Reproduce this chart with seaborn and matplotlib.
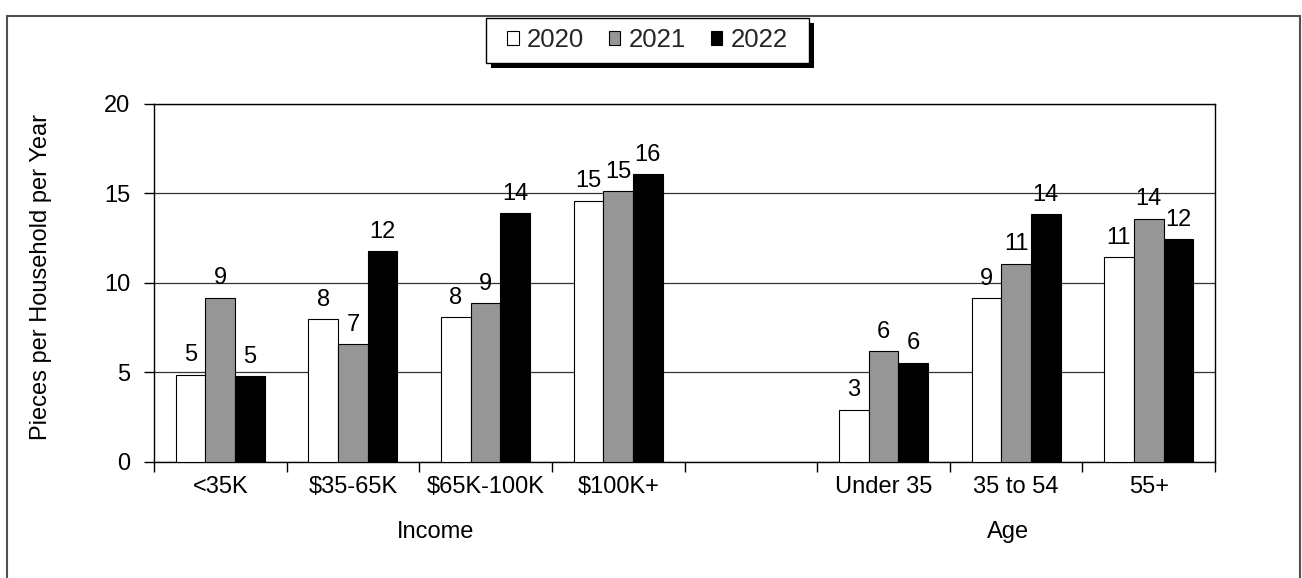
import matplotlib
matplotlib.use("Agg")
import matplotlib.pyplot as plt
import matplotlib.patches as mpatches
import matplotlib.transforms as mtransforms
import numpy as np
import pandas as pd
import seaborn as sns

# ---- data -------------------------------------------------------------
segments = ["<35K", "$35-65K", "$65K-100K", "$100K+", " ", "Under 35", "35 to 54", "55+"]
years = ["2020", "2021", "2022"]
pieces_2020 = [4.87, 7.97, 8.08, 14.59, None, 2.91, 9.14, 11.45]
pieces_2021 = [9.18, 6.59, 8.88, 15.13, None, 6.18, 11.08, 13.58]
pieces_2022 = [4.78, 11.77, 13.88, 16.06, None, 5.54, 13.84, 12.46]
group_names = ["Income", "Age"]
y_label = "Pieces per Household per Year"

# ---- long-form table ----------------------------------------------------
rows = []
for year, values in zip(years, [pieces_2020, pieces_2021, pieces_2022]):
    for seg, v in zip(segments, values):
        if v is not None:
            rows.append({"segment": seg, "year": year, "pieces": v})
df = pd.DataFrame(rows)

palette = {"2020": "#ffffff", "2021": "#969696", "2022": "#000000"}

sns.set_theme(style="white")
plt.rcParams["font.family"] = ["Liberation Sans", "DejaVu Sans"]
FS = 17

W, H = 1302, 578
fig = plt.figure(figsize=(W / 100, H / 100), dpi=100)
ax = fig.add_axes([154 / W, 1 - 461.7 / H, (1215 - 154) / W, (461.7 - 104) / H])

sns.barplot(data=df, x="segment", y="pieces", hue="year",
            order=segments, hue_order=years, palette=palette,
            width=0.672, gap=0, edgecolor="black", linewidth=0.8,
            errorbar=None, legend=False, ax=ax, zorder=3)

for cont in ax.containers:
    ax.bar_label(cont, fmt="{:.0f}", padding=6, fontsize=FS, color="black")

# axes & ticks
ax.set_xlim(-0.5, len(segments) - 0.5)
ax.set_ylim(0, 20)
ax.set_yticks(np.arange(0, 21, 5))
ax.set_xticks(np.arange(-0.5, len(segments), 1))
ax.set_xticklabels([])
ax.set_xticks(np.arange(len(segments)), labels=segments, minor=True)
ax.tick_params(axis="x", which="major", direction="out", length=7, width=1,
               color="black", bottom=True)
ax.tick_params(axis="x", which="minor", length=0, pad=10, labelsize=FS,
               labelcolor="black")
ax.tick_params(axis="y", direction="out", length=7, width=1, color="black",
               left=True, pad=10, labelsize=FS, labelcolor="black")
ax.set_xlabel("")
ax.set_ylabel(y_label, fontsize=FS, color="black")
ax.yaxis.set_label_coords(-0.0964, 0.516)

ax.yaxis.grid(True, color="#333333", linewidth=0.9, zorder=0)
ax.xaxis.grid(False)
ax.set_axisbelow(True)
for side in ["left", "bottom", "top", "right"]:
    ax.spines[side].set_visible(True)
    ax.spines[side].set_color("black")
    ax.spines[side].set_linewidth(1)

# group captions under the category labels
trans = mtransforms.blended_transform_factory(ax.transData, ax.transAxes)
for name, xc in zip(group_names, [1.62, 5.94]):
    ax.text(xc, -0.2133, name, transform=trans, ha="center", va="baseline",
            fontsize=FS, color="black")

# legend: box with a solid drop shadow, entries on top
LFS = 18.5
box_l, box_r, box_t, box_b = 486, 809, 17.7, 63
sh = 5
fig.add_artist(mpatches.Rectangle(((box_l + sh) / W, 1 - (box_b + sh) / H),
                                  (box_r - box_l) / W, (box_b - box_t) / H,
                                  transform=fig.transFigure, facecolor="black",
                                  edgecolor="none", zorder=3))
fig.add_artist(mpatches.Rectangle((box_l / W, 1 - box_b / H),
                                  (box_r - box_l) / W, (box_b - box_t) / H,
                                  transform=fig.transFigure, facecolor="white",
                                  edgecolor="black", linewidth=1, zorder=3.1))
handles = [mpatches.Patch(facecolor=palette[y], edgecolor="black", linewidth=0.8, label=y)
           for y in years]
leg = fig.legend(handles=handles, loc="center",
                 bbox_to_anchor=((box_l + box_r) / 2 / W, 1 - (box_t + box_b) / 2 / H),
                 bbox_transform=fig.transFigure, ncol=3, frameon=False,
                 fontsize=LFS, handlelength=0.43, handleheight=0.43,
                 handletextpad=0.31, columnspacing=1.0, borderpad=0.0)
leg.set_zorder(5)

# outer chart frame
fig.add_artist(mpatches.Rectangle((7 / W, -0.05), (1300 - 7) / W, 1 - 16 / H + 0.05,
                                  transform=fig.transFigure, fill=False,
                                  edgecolor="#505050", linewidth=1.5, clip_on=False))

fig.savefig("out.png", dpi=100)
